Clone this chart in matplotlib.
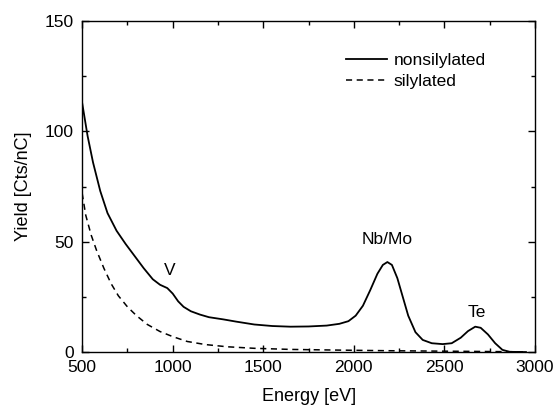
import matplotlib.pyplot as plt
from matplotlib.ticker import MultipleLocator

plt.rcParams['font.family'] = ['Liberation Sans', 'DejaVu Sans']

## Data ------------------------------------------
energy_ns = [500, 530, 560, 600, 640, 690, 740, 790, 840, 890, 930, 970,
             1000, 1030, 1060, 1100, 1150, 1200, 1280, 1350, 1450, 1550,
             1650, 1750, 1850, 1920, 1970, 2010, 2050, 2090, 2130, 2160,
             2185, 2210, 2240, 2270, 2300, 2340, 2380, 2430, 2490, 2540,
             2590, 2630, 2670, 2700, 2740, 2780, 2820, 2860, 2950]
yield_ns = [113, 98, 86, 73, 63, 55, 49, 43.5, 38, 33, 30.5, 29,
            26.5, 23, 20.5, 18.5, 17, 15.8, 14.8, 13.8, 12.5, 11.8,
            11.5, 11.6, 12.0, 12.8, 14.0, 16.5, 21, 28, 35.5, 39.5,
            40.8, 39.5, 33.5, 25, 16.5, 9, 5.5, 4.0, 3.6, 4.0,
            6.5, 9.5, 11.5, 11.0, 8.0, 4.0, 1.0, 0.1, 0.0]

energy_si = [500, 520, 550, 580, 620, 660, 700, 750, 800, 860, 930, 1000,
             1080, 1180, 1300, 1450, 1650, 1900, 2200, 2500, 2800, 2950]
yield_si = [72, 62, 53, 46, 38, 31, 25.5, 20.5, 16.5, 12.5, 9.3, 7.0,
            4.8, 3.4, 2.4, 1.7, 1.2, 0.9, 0.6, 0.4, 0.2, 0.1]

peak_labels = ["V", "Nb/Mo", "Te"]
peak_x = [985, 2185, 2680]
peak_y = [33.5, 47.5, 14.5]

## Plotting -------------------
fig = plt.figure(figsize=(5.55, 4.07), dpi=100)
ax = fig.add_axes([0.148, 0.135, 0.816, 0.813])

ax.plot(energy_ns, yield_ns, color="black", lw=1.3, label="nonsilylated")
ax.plot(energy_si, yield_si, color="black", lw=1.1, ls=(0, (4, 3)),
        label="silylated")

for lab, px, py in zip(peak_labels, peak_x, peak_y):
    ax.text(px, py, lab, ha="center", va="bottom", fontsize=12.5)

ax.set_xlim(500, 3000)
ax.set_ylim(0, 150)
ax.xaxis.set_major_locator(MultipleLocator(500))
ax.xaxis.set_minor_locator(MultipleLocator(250))
ax.yaxis.set_major_locator(MultipleLocator(50))
ax.yaxis.set_minor_locator(MultipleLocator(25))
ax.tick_params(which="both", direction="in", top=True, right=True,
               labelsize=12.5, width=1.0)
ax.tick_params(which="major", length=5)
ax.tick_params(which="minor", length=3)
ax.tick_params(axis="x", pad=6)
ax.tick_params(axis="y", pad=6)
for s in ax.spines.values():
    s.set_linewidth(1.0)

ax.set_xlabel("Energy [eV]", fontsize=13, labelpad=9)
ax.set_ylabel("Yield [Cts/nC]", fontsize=13, labelpad=9)

ax.legend(loc="upper right", bbox_to_anchor=(0.925, 0.95), frameon=False,
          fontsize=12.5, handlelength=2.4, handletextpad=0.35,
          labelspacing=0.3)

fig.savefig("out.png", dpi=100)
